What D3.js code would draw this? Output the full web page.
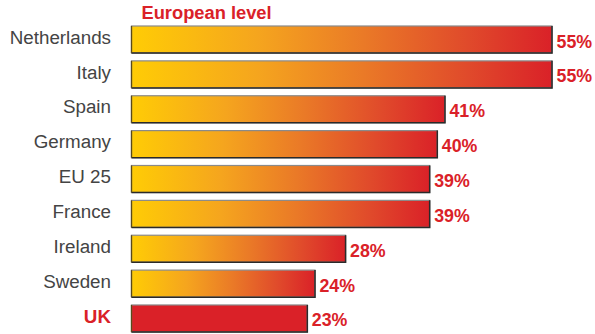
<!DOCTYPE html>
<html>
<head>
<meta charset="utf-8">
<script src="https://cdn.jsdelivr.net/npm/d3@7"></script>
<style>
  html, body { margin: 0; padding: 0; background: #fff; }
  svg { display: block; }
</style>
</head>
<body>
<svg id="chart" width="595" height="334"></svg>
<script>
const categories = ["Netherlands", "Italy", "Spain", "Germany", "EU 25", "France", "Ireland", "Sweden", "UK"];
const values = [55, 55, 41, 40, 39, 39, 28, 24, 23];
const highlight = ["UK"];
const title = "European level";

const svg = d3.select("#chart");
const red = "#DA2128";

const x = d3.scaleLinear().domain([0, 55]).range([131.5, 552]);
const y = d3.scaleBand().domain(categories).range([26, 332]).paddingInner(0.225).paddingOuter(0);

const defs = svg.append("defs");
const grad = defs.append("linearGradient").attr("id", "barGrad")
  .attr("x1", "0").attr("x2", "1").attr("y1", "0").attr("y2", "0");
[[0, "#FFCC05"], [0.3, "#F5A51E"], [0.55, "#EA7A27"], [0.8, "#E04A2B"], [1, "#DA2128"]]
  .forEach(([o, c]) => grad.append("stop").attr("offset", o).attr("stop-color", c));

const data = categories.map((c, i) => ({ cat: c, val: values[i], hi: highlight.includes(c) }));

const g = svg.append("g");
const rows = g.selectAll("g.row").data(data).enter().append("g").attr("class", "row");

rows.append("rect")
  .attr("x", x(0))
  .attr("y", d => y(d.cat))
  .attr("width", d => x(d.val) - x(0))
  .attr("height", y.bandwidth())
  .attr("fill", d => d.hi ? red : "url(#barGrad)")
  .attr("stroke", "#8a8a8a")
  .attr("stroke-width", 1.2);

// darker bottom/right edges
rows.append("path")
  .attr("d", d => {
    const x0 = x(0), x1 = x(d.val), y0 = y(d.cat), y1 = y0 + y.bandwidth();
    return `M${x0},${y1}L${x1},${y1}L${x1},${y0}`;
  })
  .attr("fill", "none")
  .attr("stroke", "#2a2a2a")
  .attr("stroke-width", 1.5);

rows.append("path")
  .attr("d", d => {
    const x0 = x(0), y0 = y(d.cat), y1 = y0 + y.bandwidth();
    return `M${x0},${y1}L${x0},${y0}`;
  })
  .attr("fill", "none")
  .attr("stroke", "#5a4a1a")
  .attr("stroke-width", 1.3);

// category labels
rows.append("text")
  .attr("x", 111)
  .attr("y", d => y(d.cat) + y.bandwidth() / 2 + 4.2)
  .attr("text-anchor", "end")
  .attr("font-family", "'Liberation Sans', Arial, sans-serif")
  .attr("font-size", 18.8)
  .attr("font-weight", d => d.hi ? "bold" : "normal")
  .attr("fill", d => d.hi ? red : "#444")
  .text(d => d.cat);

// value labels
rows.append("text")
  .attr("x", d => x(d.val) + 4.5)
  .attr("y", d => y(d.cat) + y.bandwidth() / 2 + 8)
  .attr("font-family", "'Liberation Sans', Arial, sans-serif")
  .attr("font-size", 17.8)
  .attr("font-weight", "bold")
  .attr("fill", red)
  .text(d => d.val + "%");

// title
svg.append("text")
  .attr("x", 141.5)
  .attr("y", 18.5)
  .attr("font-family", "'Liberation Sans', Arial, sans-serif")
  .attr("font-size", 18.3)
  .attr("font-weight", "bold")
  .attr("fill", red)
  .text(title);
</script>
</body>
</html>
